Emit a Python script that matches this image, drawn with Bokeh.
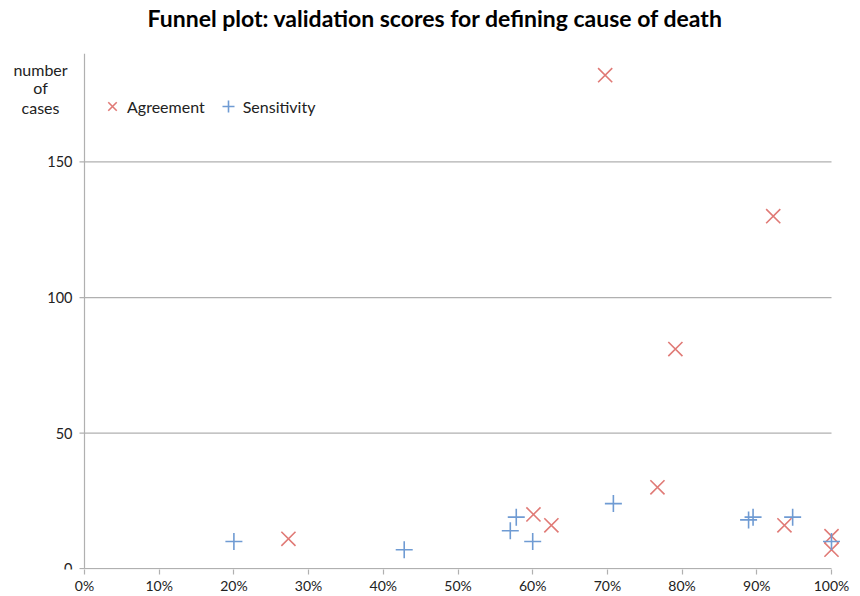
import math
from bokeh.plotting import figure
from bokeh.models import Range1d, FixedTicker, Legend, LegendItem, CustomJSTickFormatter, Title
from bokeh.core.properties import value
from bokeh.embed import file_html
from bokeh.resources import INLINE

# Data
agree_score = [0.697, 0.922, 0.791, 0.767, 0.601, 0.625, 0.273, 0.937, 1.0, 1.0]
agree_cases = [182, 130, 81, 30, 20, 16, 11, 16, 12, 7]
sens_score = [0.20, 0.428, 0.570, 0.578, 0.60, 0.708, 0.889, 0.895, 0.948, 1.0]
sens_cases = [10, 7, 14, 19, 10, 24, 18, 19, 19, 10]
x_ticks = [0, 0.1, 0.2, 0.3, 0.4, 0.5, 0.6, 0.7, 0.8, 0.9, 1.0]
y_ticks = [0, 50, 100, 150]
y_tick_labels = ["0", "50", "100", "150"]
y_max = 190
y_title_lines = ["number", "of", "cases"]
y_title_pos = [184, 177.3, 170]

FONT = "Lato"
RED = "#e07a76"
BLUE = "#6f9bd3"
GREY = "#b0b0b0"
TXT = "#222222"

# frame spans the whole width so that the outside-left labels and the
# markers at 100% are not clipped; 0..1 maps to pixels 84..831
PX = 747.0
p = figure(width=860, height=596, output_backend="svg", toolbar_location=None,
           x_range=Range1d(-84 / PX, 1 + 22 / PX), y_range=Range1d(-0.3, y_max),
           min_border_left=0, min_border_right=7, min_border_top=53, min_border_bottom=26)

p.title.text = "Funnel plot: validation scores for defining cause of death"
p.title.text_font = FONT
p.title.text_font_size = "23px"
p.title.text_font_style = "bold"
p.title.text_color = "#000000"
p.title.align = "left"
p.title.offset = 147
p.title.standoff = 0

# empty spacer between the title and the plot area
p.add_layout(Title(text=" ", text_font_size="18px", standoff=0), "above")

p.outline_line_color = None
p.background_fill_color = "white"
p.border_fill_color = "white"
p.xgrid.grid_line_color = None
p.ygrid.grid_line_color = None
p.yaxis.visible = False

xa = p.xaxis[0]
xa.axis_line_color = None
xa.major_tick_line_color = GREY
xa.major_tick_line_width = 1.2
xa.major_tick_out = 5
xa.major_tick_in = 0
xa.minor_tick_line_color = None
xa.major_label_text_font = FONT
xa.major_label_text_font_size = "14px"
xa.major_label_text_color = TXT
xa.ticker = FixedTicker(ticks=x_ticks)
xa.formatter = CustomJSTickFormatter(code="return Math.round(tick*100) + '%';")
xa.major_label_standoff = 2

# gridlines and axis lines, from the tick lists
p.segment(x0=[x_ticks[0]] * (len(y_ticks) - 1), x1=[x_ticks[-1]] * (len(y_ticks) - 1),
          y0=y_ticks[1:], y1=y_ticks[1:], line_color=GREY, line_width=1.2)
p.segment(x0=[x_ticks[0]], x1=[x_ticks[-1]], y0=[y_ticks[0]], y1=[y_ticks[0]],
          line_color=GREY, line_width=1.2)
p.segment(x0=[x_ticks[0]], x1=[x_ticks[0]], y0=[y_ticks[0]], y1=[y_max],
          line_color=GREY, line_width=1.2)
p.ray(x=[x_ticks[0]] * len(y_ticks), y=y_ticks, length=5, length_units="screen",
      angle=math.pi, line_color=GREY, line_width=1.2)
p.text(x=[x_ticks[0]] * len(y_ticks), y=y_ticks, text=y_tick_labels, x_offset=-12,
       text_align="right", text_baseline="middle", text_font=value(FONT),
       text_font_size="14.5px", text_color=TXT)
p.text(x=[x_ticks[0]] * len(y_title_lines), y=y_title_pos, text=y_title_lines, x_offset=-44,
       text_align="center", text_baseline="middle", text_font=value(FONT),
       text_font_size="16px", text_color=TXT)

r_agree = p.scatter(agree_score, agree_cases, marker="x", size=20, line_color=RED,
                    line_width=1.6, fill_color=None)
r_sens = p.scatter(sens_score, sens_cases, marker="cross", size=17, line_color=BLUE,
                   line_width=1.6, fill_color=None)

legend = Legend(items=[LegendItem(label="Agreement", renderers=[r_agree]),
                       LegendItem(label="Sensitivity", renderers=[r_sens])],
                orientation="horizontal", location=(97, 448),
                border_line_color=None, background_fill_alpha=0,
                label_text_font=FONT, label_text_font_size="16px", label_text_color=TXT,
                glyph_width=30, glyph_height=30, label_standoff=0, spacing=8,
                padding=0, margin=0, label_height=20)
p.add_layout(legend)

open("out.html", "w").write(file_html(p, INLINE))
